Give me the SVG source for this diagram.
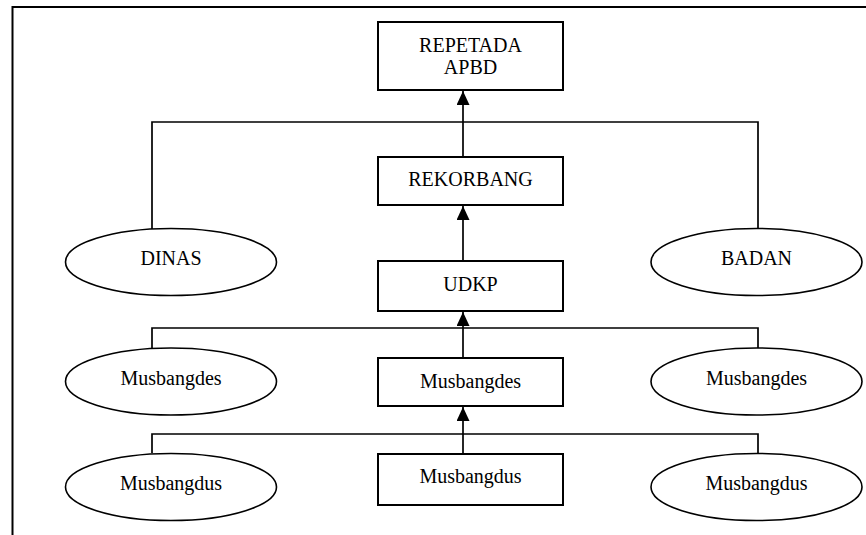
<svg xmlns="http://www.w3.org/2000/svg" width="866" height="535" viewBox="0 0 866 535">
<style>
  .box{fill:#fff;stroke:#000;stroke-width:2}
  .ell{fill:#fff;stroke:#000;stroke-width:1.6}
  .ln{fill:none;stroke:#000;stroke-width:1.7}
  .t{font-family:"Liberation Serif","Times New Roman",serif;font-size:20px;fill:#000;text-anchor:middle}
</style>
<defs>
  <marker id="arr" viewBox="0 0 14 13" refX="14" refY="6.5" markerWidth="14" markerHeight="13" markerUnits="userSpaceOnUse" orient="auto">
    <path d="M0,0 L14,6.5 L0,13 z" fill="#000"/>
  </marker>
</defs>
<rect width="866" height="535" fill="#fff"/>
<path d="M12.5,535 V7 H866" fill="none" stroke="#000" stroke-width="2"/>

<g id="connectors">
  <path class="ln" d="M152,229 V122 H758 V229"/>
  <path class="ln" d="M463,157 V91" marker-end="url(#arr)"/>
  <path class="ln" d="M463,261 V206" marker-end="url(#arr)"/>
  <path class="ln" d="M152,349 V328 H758 V349"/>
  <path class="ln" d="M463,358 V312" marker-end="url(#arr)"/>
  <path class="ln" d="M152,453 V434 H758 V453"/>
  <path class="ln" d="M463,454 V407" marker-end="url(#arr)"/>
</g>

<g id="repetada">
  <rect class="box" x="378" y="22" width="185" height="68"/>
  <text class="t" x="470.5" y="52">REPETADA</text>
  <text class="t" x="470.5" y="74">APBD</text>
</g>
<g id="rekorbang">
  <rect class="box" x="378" y="157" width="185" height="48"/>
  <text class="t" x="470.5" y="186">REKORBANG</text>
</g>
<g id="udkp">
  <rect class="box" x="378" y="261" width="185" height="50"/>
  <text class="t" x="470.5" y="291">UDKP</text>
</g>
<g id="dinas">
  <ellipse class="ell" cx="171" cy="262" rx="105.5" ry="33.5"/>
  <text class="t" x="171" y="265">DINAS</text>
</g>
<g id="badan">
  <ellipse class="ell" cx="756.5" cy="262" rx="105.5" ry="33.5"/>
  <text class="t" x="756.5" y="265">BADAN</text>
</g>
<g id="musbangdes-left">
  <ellipse class="ell" cx="171" cy="381.5" rx="105.5" ry="33.5"/>
  <text class="t" x="171" y="385">Musbangdes</text>
</g>
<g id="musbangdes-center">
  <rect class="box" x="378" y="358" width="185" height="48"/>
  <text class="t" x="470.5" y="388">Musbangdes</text>
</g>
<g id="musbangdes-right">
  <ellipse class="ell" cx="756.5" cy="381.5" rx="105.5" ry="33.5"/>
  <text class="t" x="756.5" y="385">Musbangdes</text>
</g>
<g id="musbangdus-left">
  <ellipse class="ell" cx="171" cy="487" rx="105.5" ry="33.5"/>
  <text class="t" x="171" y="490">Musbangdus</text>
</g>
<g id="musbangdus-center">
  <rect class="box" x="378" y="454" width="185" height="51"/>
  <text class="t" x="470.5" y="483">Musbangdus</text>
</g>
<g id="musbangdus-right">
  <ellipse class="ell" cx="756.5" cy="487" rx="105.5" ry="33.5"/>
  <text class="t" x="756.5" y="490">Musbangdus</text>
</g>
</svg>
